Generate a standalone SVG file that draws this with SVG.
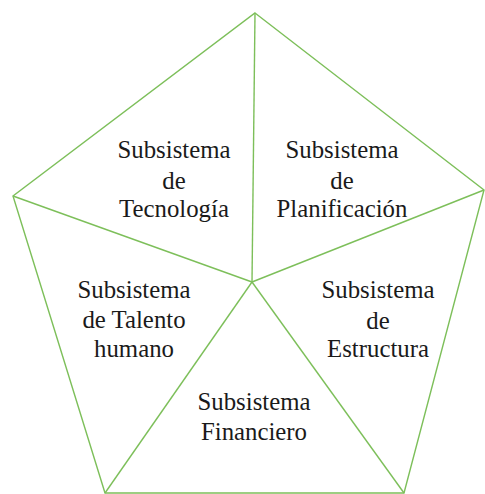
<svg xmlns="http://www.w3.org/2000/svg" width="485" height="494" viewBox="0 0 485 494">
<style>
.l{fill:none;stroke:#7DBF5A;stroke-width:1.4;stroke-linejoin:miter}
.t{font-family:'Liberation Serif','Times New Roman',serif;font-size:24.8px;fill:#1a1a1a;text-anchor:middle}
</style>
<rect width="485" height="494" fill="#fff"/>
<g id="connectors">
<polygon class="l" points="255,13 484,190 404,493 105,493 13,196"/>
<line class="l" x1="255" y1="13" x2="252" y2="282"/>
<line class="l" x1="484" y1="190" x2="252" y2="282"/>
<line class="l" x1="404" y1="493" x2="252" y2="282"/>
<line class="l" x1="105" y1="493" x2="252" y2="282"/>
<line class="l" x1="13" y1="196" x2="252" y2="282"/>
</g>
<g id="tecnologia" class="t"><text x="174" y="158">Subsistema</text><text x="174" y="189">de</text><text x="174" y="217">Tecnología</text></g>
<g id="planificacion" class="t"><text x="342" y="158">Subsistema</text><text x="342" y="189">de</text><text x="342" y="217">Planificación</text></g>
<g id="talento" class="t"><text x="134" y="298">Subsistema</text><text x="134" y="328">de Talento</text><text x="134" y="357">humano</text></g>
<g id="estructura" class="t"><text x="378" y="298">Subsistema</text><text x="378" y="329">de</text><text x="378" y="357">Estructura</text></g>
<g id="financiero" class="t"><text x="254" y="410">Subsistema</text><text x="254" y="440">Financiero</text></g>
</svg>
